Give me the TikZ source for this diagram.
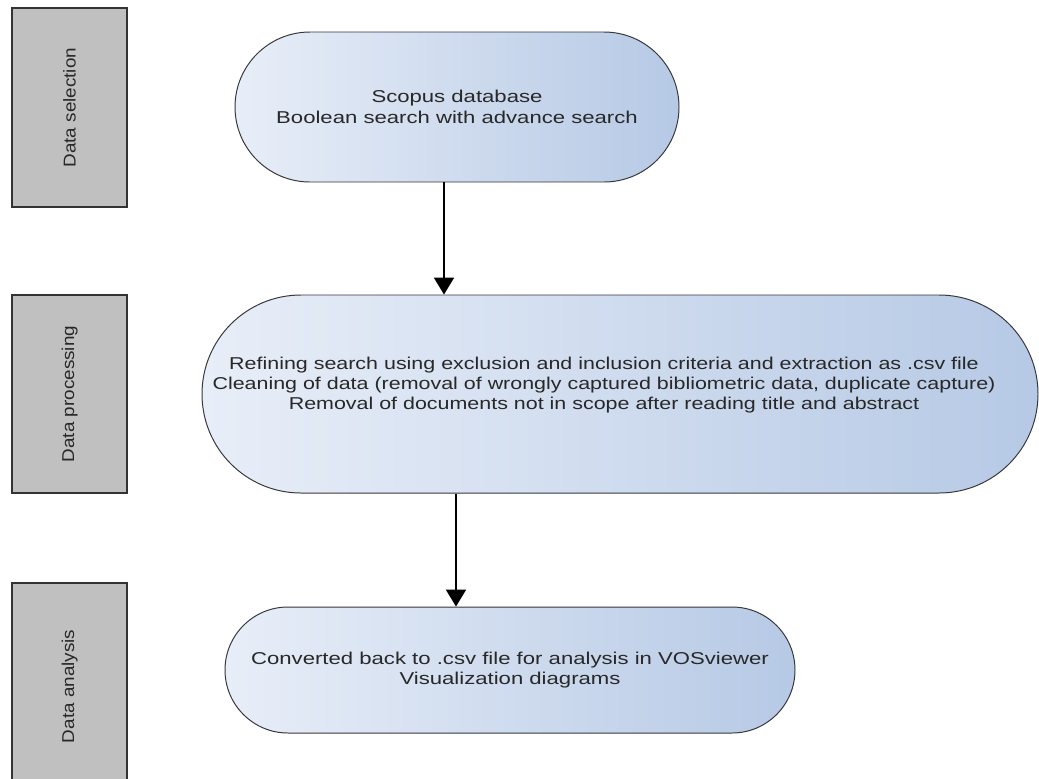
\documentclass[tikz,border=0pt]{standalone}
\usepackage{fontspec}
\setmainfont{Liberation Sans}
\newfontfamily\wideface[FakeStretch=1.29]{Liberation Sans}
\newfontfamily\procface[FakeStretch=1.25]{Liberation Sans}
\newfontfamily\laneface[FakeStretch=1.1]{Liberation Sans}
\usepackage{xcolor}
\usepackage{tikz}
\usetikzlibrary{shapes.misc, arrows.meta, positioning}
\definecolor{lanegray}{RGB}{192,192,192}
\definecolor{stageleft}{RGB}{232,238,248}
\definecolor{stageright}{RGB}{182,201,229}
\definecolor{stageedge}{RGB}{55,55,60}
\definecolor{inkgray}{RGB}{40,40,40}

\begin{document}
\begin{tikzpicture}[
  every node/.style={font=\wideface\fontsize{12.2}{14.6}\selectfont, text=inkgray},
  lane/.style={rectangle, draw=black!80, line width=0.9pt, fill=lanegray,
               minimum width=2.875cm, inner sep=0pt},
  lanetext/.style={rotate=90, font=\laneface\fontsize{12.2}{15}\selectfont},
  stage/.style={rounded rectangle, draw=stageedge, line width=0.7pt,
                left color=stageleft, right color=stageright,
                align=center, inner sep=0pt},
  stagetext/.style={align=center, inner sep=0pt,
                    font=\procface\fontsize{12.2}{14.3}\selectfont},
  flow/.style={line width=1pt, color=black, -{Triangle[length=0.42cm, width=0.5cm]}},
]
\useasboundingbox (0,0) rectangle (25.975,-19.45);

% ── swim-lane labels ──
\node[lane, minimum height=4.975cm] (selbox) at (1.74,-2.69) {};
\node[lanetext] at (selbox) {Data selection};
\node[lane, minimum height=4.95cm] (probox) at (1.74,-9.85) {};
\node[lanetext] at (probox) {Data processing};
\node[lane, minimum height=5.175cm] (anabox) at (1.74,-17.16) {};
\node[lanetext] at (anabox) {Data analysis};

% ── stages ──
\node[stage, minimum width=11.1cm, minimum height=3.75cm] (sel) at (11.425,-2.675)
  {Scopus database\\Boolean search with advance search};
\node[stage, minimum width=20.9cm, minimum height=4.95cm] (proc) at (15.5,-9.85) {};
\node[stagetext] at ([xshift=-0.4cm, yshift=0.22cm]proc.center)
  {Refining search using exclusion and inclusion criteria and extraction as .csv file\\
   Cleaning of data (removal of wrongly captured bibliometric data, duplicate capture)\\
   Removal of documents not in scope after reading title and abstract};
\node[stage, minimum width=14.25cm, minimum height=3.15cm] (ana) at (12.75,-16.75)
  {Converted back to .csv file for analysis in VOSviewer\\
   Visualization diagrams};

% ── connectors ──
\draw[flow] ([xshift=-0.325cm]sel.south) -- ([xshift=-0.325cm]sel.south |- proc.north);
\draw[flow] ([xshift=-1.35cm]ana.north |- proc.south) -- ([xshift=-1.35cm]ana.north);

\end{tikzpicture}
\end{document}
